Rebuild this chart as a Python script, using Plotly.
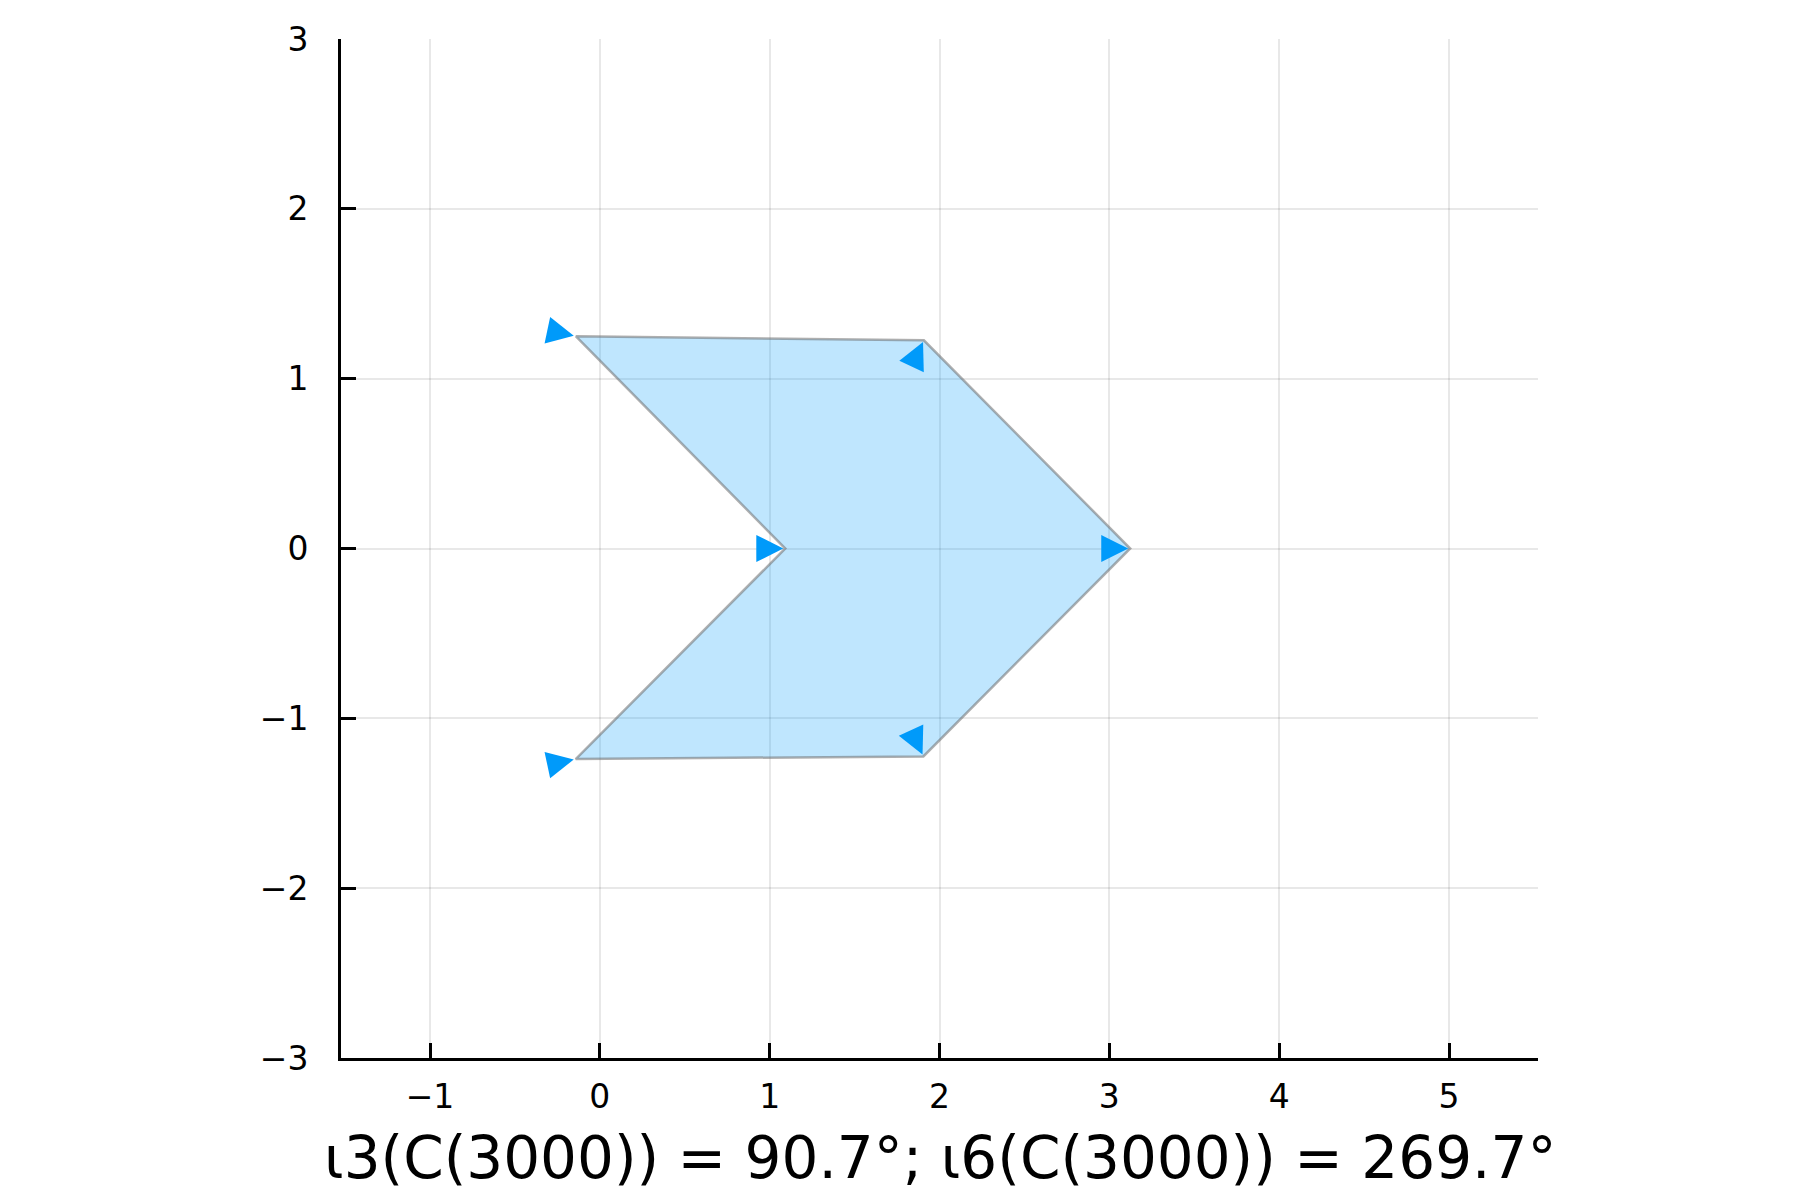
import plotly.graph_objects as go

# polygon vertices (closed shape)
shape_x = [-0.142, 1.908, 3.123, 1.905, -0.142, 1.092]
shape_y = [1.250, 1.226, 0.0, -1.224, -1.240, 0.0]

# small arrows: tips sit on the vertices, (u, v) is the arrow vector
arrow_x = [-0.142, 1.908, 1.092, 3.123, 1.905, -0.142]
arrow_y = [1.250, 1.226, 0.0, 0.0, -1.224, -1.240]
arrow_u = [0.156, 0.068, 0.16, 0.16, 0.068, 0.156]
arrow_v = [-0.033, 0.145, 0.0, 0.0, -0.145, 0.033]

x_ticks = [-1, 0, 1, 2, 3, 4, 5]
y_ticks = [-3, -2, -1, 0, 1, 2, 3]
label = "ι3(C(3000)) = 90.7°; ι6(C(3000)) = 269.7°"

blue = "rgb(0,154,250)"

fig = go.Figure()
fig.add_trace(go.Scatter(
    x=shape_x + shape_x[:1], y=shape_y + shape_y[:1],
    mode="lines", fill="toself",
    fillcolor="rgba(0,154,250,0.25)",
    line=dict(color="rgba(110,110,110,0.55)", width=2.5),
    hoverinfo="skip", showlegend=False,
))

for x, y, u, v in zip(arrow_x, arrow_y, arrow_u, arrow_v):
    fig.add_annotation(
        x=x, y=y, ax=x - u, ay=y - v,
        xref="x", yref="y", axref="x", ayref="y",
        text="", showarrow=True,
        arrowhead=2, arrowsize=2.7, arrowwidth=2,
        arrowcolor=blue, standoff=2,
    )

fig.add_annotation(
    text=label, xref="paper", yref="paper",
    x=0.5, y=-0.098, xanchor="center", yanchor="middle",
    showarrow=False, font=dict(size=58, color="black"),
)

axis_style = dict(
    ticks="inside", ticklen=15, tickwidth=2.5, tickcolor="black",
    showline=True, linecolor="black", linewidth=3,
    showgrid=True, gridcolor="rgba(0,0,0,0.09)", gridwidth=2,
    zeroline=False, mirror=False,
    tickfont=dict(size=33, color="black"),
)

fig.update_xaxes(range=[-1.5, 5.5], tickvals=x_ticks, ticklabelstandoff=7, **axis_style)
fig.update_yaxes(range=[-3, 3], tickvals=y_ticks, scaleanchor="x", scaleratio=1,
                 ticklabelstandoff=23, **axis_style)

# page body adds ~8px, so margins are trimmed on left/top
fig.update_layout(
    width=1800, height=1200,
    margin=dict(l=333, r=270, t=24, b=150),
    plot_bgcolor="white", paper_bgcolor="white",
    font=dict(family="DejaVu Sans", color="black"),
    showlegend=False,
)

fig.write_html("out.html")
